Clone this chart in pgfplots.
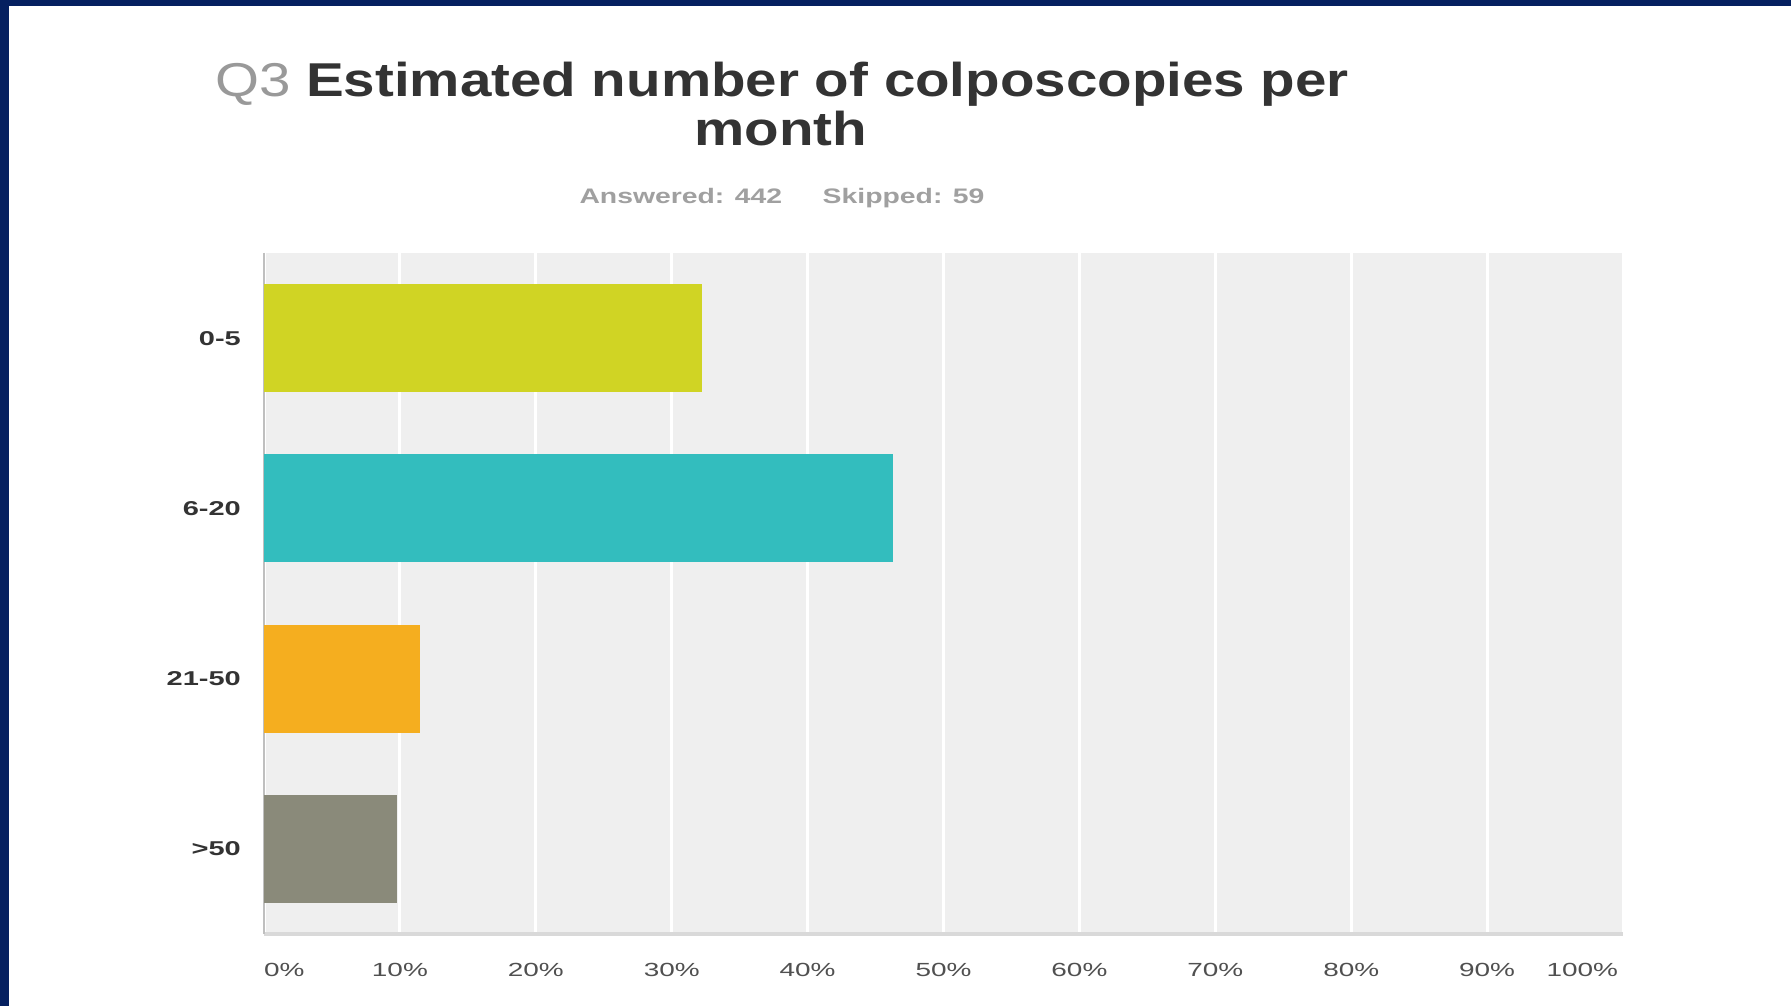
\documentclass[border=0pt]{standalone}
\usepackage{pgfplots}
\pgfplotsset{compat=1.18}
\usepackage{fontspec}
\setmainfont{Liberation Sans}
\definecolor{navy}{RGB}{5,32,96}
\definecolor{bgg}{RGB}{239,239,239}
\definecolor{cA}{RGB}{208,212,36}
\definecolor{cB}{RGB}{51,189,190}
\definecolor{cC}{RGB}{245,174,31}
\definecolor{cD}{RGB}{138,138,122}
\definecolor{titlec}{RGB}{51,51,51}
\definecolor{qc}{RGB}{153,153,153}
\definecolor{subc}{RGB}{160,160,160}
\definecolor{xlab}{RGB}{80,80,80}
\newcommand{\xs}[1]{\scalebox{1.47}[1]{#1}}
\newcommand{\ys}[1]{\scalebox{1.45}[1]{#1}}
\begin{document}
\begin{tikzpicture}[x=1pt,y=1pt]
\useasboundingbox (0,0) rectangle (1791,1006);
\fill[white] (0,0) rectangle (1791,1006);
\fill[navy] (0,1000) rectangle (1791,1006);
\fill[navy] (0,0) rectangle (9,1006);
\node[anchor=base, inner sep=0pt, font=\fontsize{47.5}{50}\selectfont] at (782,909)
  {\scalebox{1.19}[1]{\textcolor{qc}{Q3} \textcolor{titlec}{\bfseries Estimated number of colposcopies per}}};
\node[anchor=base, inner sep=0pt, font=\fontsize{47.5}{50}\selectfont\bfseries, text=titlec] at (781,860) {\scalebox{1.19}[1]{month}};
\node[anchor=center, inner sep=0pt, font=\fontsize{21}{24}\selectfont\bfseries, text=subc] at (782,808)
  {\scalebox{1.35}[1]{Answered: 442\hspace{30pt}Skipped: 59}};
\begin{axis}[
  at={(264pt,72pt)}, anchor=south west,
  width=1359pt, height=681pt, scale only axis,
  xbar, bar shift=0pt, bar width=108pt,
  xmin=0, xmax=100, ymin=-0.5, ymax=3.5, y dir=reverse,
  ytick={0,1,2,3}, yticklabels={\ys{0-5},\ys{6-20},\ys{21-50},\ys{>50}},
  xtick={0,10,...,100},
  xticklabels={\makebox[0pt][l]{\xs{0\%}},\xs{10\%},\xs{20\%},\xs{30\%},\xs{40\%},\xs{50\%},\xs{60\%},\xs{70\%},\xs{80\%},\xs{90\%},\makebox[0pt][r]{\xs{100\%}\hspace{5pt}}},
  /pgf/number format/assume math mode=true,
  major tick length=0pt,
  axis background/.style={fill=bgg},
  xmajorgrids, grid style={white, line width=3pt},
  axis x line*=bottom, axis y line*=left,
  x axis line style={-, draw=black!15, line width=4pt},
  y axis line style={-, draw=black!25, line width=1.5pt},
  xticklabel style={anchor=north, inner sep=0pt, yshift=-29pt, font=\fontsize{19}{22}\selectfont, text=xlab},
  yticklabel style={anchor=east, inner sep=0pt, xshift=-23pt, font=\fontsize{20}{24}\selectfont\bfseries, text=titlec},
]
\addplot[fill=cA, draw=none] coordinates {(32.2,0)};
\addplot[fill=cB, draw=none] coordinates {(46.3,1)};
\addplot[fill=cC, draw=none] coordinates {(11.5,2)};
\addplot[fill=cD, draw=none] coordinates {(9.8,3)};
\end{axis}
\end{tikzpicture}
\end{document}
